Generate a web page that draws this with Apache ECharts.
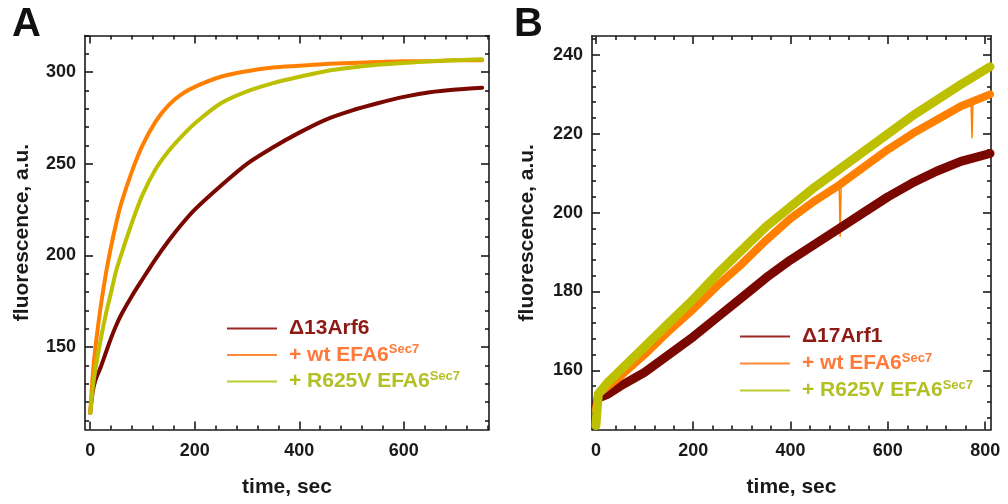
<!DOCTYPE html>
<html><head><meta charset="utf-8">
<script src="https://cdn.jsdelivr.net/npm/echarts@6/dist/echarts.min.js"></script>
<style>html,body{margin:0;padding:0;background:#fff}#c{width:1008px;height:504px}</style>
</head><body><div id="c"></div>
<script>
// ---------- Panel A data (time, sec / fluorescence, a.u.) ----------
const timeA      = [0, 5, 10, 20, 30, 40, 50, 60, 80, 100, 125, 150, 175, 200, 250, 300, 350, 400, 450, 500, 550, 600, 650, 700, 750];
const arf6A      = [114, 126, 132, 139, 147, 155, 162, 168, 178, 187, 198, 208, 217, 225, 238, 250, 259, 267, 274, 279, 283, 286.5, 289, 290.5, 291.5];
const wtA        = [114, 135, 150, 172, 190, 205, 218, 229, 246, 260, 273, 282, 288, 292, 297.5, 300.5, 302.5, 303.5, 304.5, 305, 305.5, 306, 306, 306.5, 306.5];
const r625vA     = [114, 128, 138, 154, 168, 180, 192, 201, 218, 233, 247, 257, 265, 272, 283, 289.5, 294, 297.5, 300.5, 302.5, 304, 305, 306, 306.5, 307];

// ---------- Panel B data ----------
const timeB      = [0, 5, 25, 50, 100, 150, 200, 250, 300, 350, 400, 450, 500, 550, 600, 650, 700, 750, 810];
const arf1B      = [151, 153, 154, 156, 159.5, 164, 168.5, 173.5, 178.5, 183.5, 188, 192, 196, 200, 204, 207.5, 210.5, 213, 215];
const wtB        = [150, 154, 156, 158.5, 164, 170, 175.5, 181.5, 187, 193, 198.5, 203, 207, 211.5, 216, 220, 223.5, 227, 230];
const r625vB     = [146, 154, 157, 160, 166, 172, 178, 184.5, 190.5, 196.5, 201.5, 206.5, 211, 215.5, 220, 224.5, 228.5, 232.5, 237];
// isolated downward spikes in the wt trace of panel B
const timeSpikeB = [500, 502, 504, null, 771, 773, 775];
const wtSpikeB   = [207, 194, 207, null, 228, 219, 228];

// ---------- tick labels ----------
const xMajorA = [0, 200, 400, 600];
const yMajorA = [150, 200, 250, 300];
const xMajorB = [0, 200, 400, 600, 800];
const yMajorB = [160, 180, 200, 220, 240];

const names = {
  arf6: '\u039413Arf6', arf1: '\u039417Arf1', wt: '+ wt EFA6', r625v: '+ R625V EFA6'
};
const colors = { dark: '#7a0800', orange: '#ff8000', olive: '#bcc000' };

function minorTicks(from, to, step, majors) {
  const out = [];
  for (let v = from; v <= to + 1e-9; v += step) {
    if (!majors.includes(v)) out.push(v);
  }
  return out;
}
const xMinorA = minorTicks(40, 760, 40, xMajorA);
const yMinorA = minorTicks(110, 320, 10, yMajorA);
const xMinorB = minorTicks(40, 800, 40, xMajorB);
const yMinorB = minorTicks(148, 244, 4, yMajorB);

const FONT = 'Liberation Sans, Arial, Helvetica, sans-serif';
const INK = '#1a1a1a';
const lineSt = { color: INK, width: 1.6 };

function axesFor(dim, gi, min, max, major, minor, name, nameGap) {
  const posA = dim === 'x' ? 'bottom' : 'left';
  const posB = dim === 'x' ? 'top' : 'right';
  const base = { type: 'value', gridIndex: gi, min: min, max: max, splitLine: { show: false }, silent: true };
  const mk = (pos, isMajor, isMain) => Object.assign({}, base, {
    position: pos,
    axisLine: { show: isMajor, onZero: false, lineStyle: lineSt },
    axisTick: { show: true, inside: true, length: isMajor ? 8 : 4, customValues: isMajor ? major : minor, lineStyle: lineSt },
    axisLabel: isMain ? { show: true, customValues: major, margin: dim === 'x' ? 13 : 9, color: INK, fontSize: 18, fontWeight: 'bold', fontFamily: FONT } : { show: false },
    name: isMain ? name : '',
    nameLocation: 'middle',
    nameGap: nameGap,
    nameTextStyle: { color: INK, fontSize: 21, fontWeight: 'bold', fontFamily: FONT }
  });
  return [mk(posA, true, true), mk(posA, false, false), mk(posB, true, false), mk(posB, false, false)];
}

const xAxis = [].concat(
  axesFor('x', 0, -10, 763, xMajorA, xMinorA, 'time, sec', 47),
  axesFor('x', 1, -8, 812, xMajorB, xMinorB, 'time, sec', 47)
);
const yAxis = [].concat(
  axesFor('y', 0, 105, 320, yMajorA, yMinorA, 'fluorescence, a.u.', 52),
  axesFor('y', 1, 145, 244.8, yMajorB, yMinorB, 'fluorescence, a.u.', 54)
);

function pairs(t, v) { return t.map((x, i) => (x === null ? [null, null] : [x, v[i]])); }
function ser(name, gi, t, v, color, width, smooth) {
  return {
    type: 'line', name: name, xAxisIndex: gi * 4, yAxisIndex: gi * 4,
    data: pairs(t, v), showSymbol: false, symbol: 'none',
    smooth: smooth, connectNulls: false,
    lineStyle: { color: color, width: width, join: 'round', cap: 'round' },
    itemStyle: { color: color }, z: 3
  };
}

const series = [
  ser(names.arf6, 0, timeA, arf6A, colors.dark, 4, 0.3),
  ser(names.wt, 0, timeA, wtA, colors.orange, 4, 0.3),
  ser(names.r625v, 0, timeA, r625vA, colors.olive, 4, 0.3),
  ser(names.arf1, 1, timeB, arf1B, colors.dark, 9, false),
  ser(names.wt, 1, timeB, wtB, colors.orange, 8, false),
  Object.assign(ser('spikes', 1, timeSpikeB, wtSpikeB, colors.orange, 1.5, false), { z: 2 }),
  ser(names.r625v, 1, timeB, r625vB, colors.olive, 9, false)
];

const rich = {
  sp: { width: 7 },
  r: { color: '#8e1a14', fontSize: 21, fontWeight: 'bold', fontFamily: FONT, lineHeight: 24 },
  o: { color: '#ff7a3a', fontSize: 21, fontWeight: 'bold', fontFamily: FONT, lineHeight: 24 },
  g: { color: '#b2c026', fontSize: 21, fontWeight: 'bold', fontFamily: FONT, lineHeight: 24 },
  os: { color: '#ff7a3a', fontSize: 13, fontWeight: 'bold', fontFamily: FONT, lineHeight: 2, verticalAlign: 'top' },
  gs: { color: '#b2c026', fontSize: 13, fontWeight: 'bold', fontFamily: FONT, lineHeight: 2, verticalAlign: 'top' }
};
function fmt(n) {
  if (n === names.wt) return '{sp|}{o|' + n + '}{os|Sec7}';
  if (n === names.r625v) return '{sp|}{g|' + n + '}{gs|Sec7}';
  return '{sp|}{r|' + n + '}';
}
function legend(left, top, first, gap) {
  return {
    orient: 'vertical', left: left, top: top, itemWidth: 50, itemHeight: 2, itemGap: gap,
    icon: 'rect', padding: 0, selectedMode: false,
    data: [
      { name: first, itemStyle: { color: '#9a2a22' } },
      { name: names.wt, itemStyle: { color: '#ff8a3a' } },
      { name: names.r625v, itemStyle: { color: '#bccc30' } }
    ],
    formatter: fmt, textStyle: { rich: rich }
  };
}

const chart = echarts.init(document.getElementById('c'), null, { renderer: 'canvas' });
chart.setOption({
  animation: false,
  backgroundColor: '#ffffff',
  grid: [
    { left: 85, top: 35.5, width: 404, height: 394 },
    { left: 592, top: 36, width: 399, height: 393.5 }
  ],
  xAxis: xAxis,
  yAxis: yAxis,
  legend: [legend(227, 318, names.arf6, 4), legend(740, 326, names.arf1, 4.5)],
  graphic: [
    { type: 'text', left: 12, top: 5, style: { text: 'A', fill: '#111', font: 'bold 40px ' + FONT } },
    { type: 'text', left: 514, top: 5, style: { text: 'B', fill: '#111', font: 'bold 40px ' + FONT } }
  ],
  series: series
});
</script>
</body></html>
